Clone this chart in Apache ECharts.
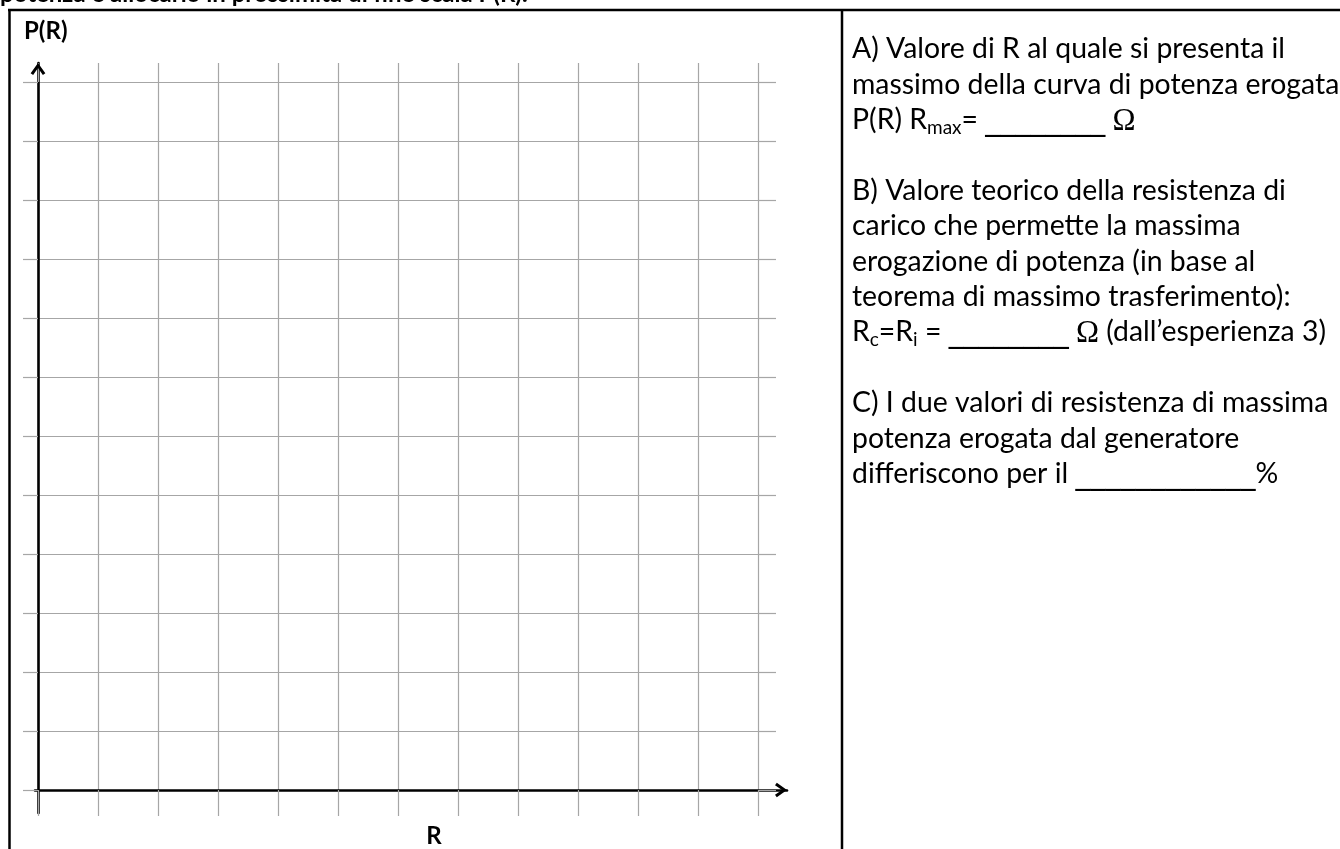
<!DOCTYPE html>
<html><head><meta charset="utf-8">
<script src="https://cdn.jsdelivr.net/npm/echarts@6/dist/echarts.min.js"></script>
<style>html,body{margin:0;padding:0;background:#fff}#c{width:1340px;height:849px}</style>
</head><body><div id="c"></div>
<script>
// Grid divisions of the empty worksheet (R on x, P(R) on y)
const rTicks = [0,1,2,3,4,5,6,7,8,9,10,11,12];
const pTicks = [0,1,2,3,4,5,6,7,8,9,10,11,12];
// No measured points are drawn on the reference (blank sheet)
const pOfR = [];
const headerText = 'potenza e allocarlo in prossimità di fine scala P(R).';
const yAxisTitle = 'P(R)';
const xAxisTitle = 'R';
const answerLines = [
  'A) Valore di R al quale si presenta il',
  'massimo della curva di potenza erogata',
  'P(R) R{sub|max}= {u|________} {om|Ω}',
  '',
  'B) Valore teorico della resistenza di',
  'carico che permette la massima',
  'erogazione di potenza (in base al',
  'teorema di massimo trasferimento):',
  'R{sub|c}=R{sub|i} = {u|________} {om|Ω} (dall’esperienza 3)',
  '',
  'C) I due valori di resistenza di massima',
  'potenza erogata dal generatore',
  'differiscono per il {u|____________}%'
];

const GRAY = '#a6a6a6';
const FONT = 'Lato';
const arrowPath = 'path://M0,9 L6.5,0 L13,9 L10.8,10.6 L6.5,4.4 L2.2,10.6 Z';

const chart = echarts.init(document.getElementById('c'), null, {renderer: 'canvas'});

const rMin = rTicks[0], rMax = rTicks[rTicks.length - 1];
const pMin = pTicks[0], pMax = pTicks[pTicks.length - 1];

const gx0 = 38, gx1 = 758, gy0 = 82, gy1 = 790;
const pxPerR = (gx1 - gx0) / (rMax - rMin);
const pxPerP = (gy1 - gy0) / (pMax - pMin);
// black axes grid (extends beyond the squared grid)
const ax0 = 35, ax1 = 787, ay0 = 63, ay1 = 813;

const graphics = [];
// table borders
graphics.push({type:'line', shape:{x1:8, y1:10, x2:1340, y2:10}, style:{stroke:'#000', lineWidth:2.5}});
graphics.push({type:'line', shape:{x1:9.5, y1:10, x2:9.5, y2:849}, style:{stroke:'#000', lineWidth:2.5}});
graphics.push({type:'line', shape:{x1:842, y1:10, x2:842, y2:849}, style:{stroke:'#000', lineWidth:2.5}});
// clipped header sentence (only its lower part shows above the table)
graphics.push({type:'text', z: -1, style:{text: headerText, x: 0, y: 6, font: 'bold 24px ' + FONT, fill:'#000', textVerticalAlign:'bottom'}});
// axis titles
graphics.push({type:'text', style:{text: yAxisTitle, x: 24, y: 31, font: 'bold 24px ' + FONT, fill:'#000', textVerticalAlign:'middle'}});
graphics.push({type:'text', style:{text: xAxisTitle, x: 434, y: 836, font: 'bold 24px ' + FONT, fill:'#000', textAlign:'center', textVerticalAlign:'middle'}});
// right column text
answerLines.forEach(function (t, i) {
  if (!t) return;
  graphics.push({type:'text', style:{
    text: t, x: 852, y: 49 + 35.4 * i,
    fontSize: 28.4, fontFamily: FONT, fill:'#000',
    textVerticalAlign:'middle', verticalAlign:'bottom', lineHeight: 35,
    rich: {
      sub: {fontSize: 19, fontFamily: FONT, lineHeight: 27, verticalAlign:'bottom', fill:'#000'},
      u: {fontSize: 30, fontFamily: 'DejaVu Sans', lineHeight: 35, verticalAlign:'bottom', fill:'#000'},
      om: {fontSize: 31, fontFamily: 'Liberation Serif', lineHeight: 35, verticalAlign:'bottom', fill:'#000'}
    }
  }});
});

const option = {
  animation: false,
  backgroundColor: '#fff',
  grid: [
    {left: gx0, top: gy0, width: gx1 - gx0, height: gy1 - gy0, containLabel: false},
    {left: ax0, top: ay0, width: ax1 - ax0, height: ay1 - ay0, containLabel: false}
  ],
  xAxis: [
    {gridIndex: 0, type: 'value', min: rMin, max: rMax, interval: 1, position: 'bottom',
     axisLine: {show: false, onZero: false}, axisLabel: {show: false},
     axisTick: {show: true, inside: false, length: 26, lineStyle: {color: GRAY, width: 1.2}},
     splitLine: {show: true, lineStyle: {color: GRAY, width: 1.2}}},
    {gridIndex: 0, type: 'value', min: rMin, max: rMax, interval: 1, position: 'top',
     axisLine: {show: false, onZero: false}, axisLabel: {show: false},
     axisTick: {show: true, inside: false, length: 19, lineStyle: {color: GRAY, width: 1.2}},
     splitLine: {show: false}},
    {gridIndex: 1, type: 'value', min: rMin - (gx0 - ax0) / pxPerR, max: rMin + (ax1 - gx0) / pxPerR,
     axisLine: {show: true, onZero: true, symbol: ['none', arrowPath], symbolSize: [15, 12], symbolOffset: [0, -6],
                lineStyle: {color: '#000', width: 2.6}},
     axisTick: {show: false}, axisLabel: {show: false}, splitLine: {show: false}}
  ],
  yAxis: [
    {gridIndex: 0, type: 'value', min: pMin, max: pMax, interval: 1, position: 'left',
     axisLine: {show: false, onZero: false}, axisLabel: {show: false},
     axisTick: {show: true, inside: false, length: 15, lineStyle: {color: GRAY, width: 1.2}},
     splitLine: {show: true, lineStyle: {color: GRAY, width: 1.2}}},
    {gridIndex: 0, type: 'value', min: pMin, max: pMax, interval: 1, position: 'right',
     axisLine: {show: false, onZero: false}, axisLabel: {show: false},
     axisTick: {show: true, inside: false, length: 18, lineStyle: {color: GRAY, width: 1.2}},
     splitLine: {show: false}},
    {gridIndex: 1, type: 'value', min: pMin - (ay1 - gy1) / pxPerP, max: pMin + (gy1 - ay0) / pxPerP,
     axisLine: {show: true, onZero: true, symbol: ['none', arrowPath], symbolSize: [15, 12], symbolOffset: [0, -6],
                lineStyle: {color: '#000', width: 2.6}},
     axisTick: {show: false}, axisLabel: {show: false}, splitLine: {show: false}}
  ],
  series: [
    {type: 'line', xAxisIndex: 0, yAxisIndex: 0, data: pOfR, showSymbol: false}
  ],
  graphic: graphics
};
chart.setOption(option);
</script>
</body></html>
